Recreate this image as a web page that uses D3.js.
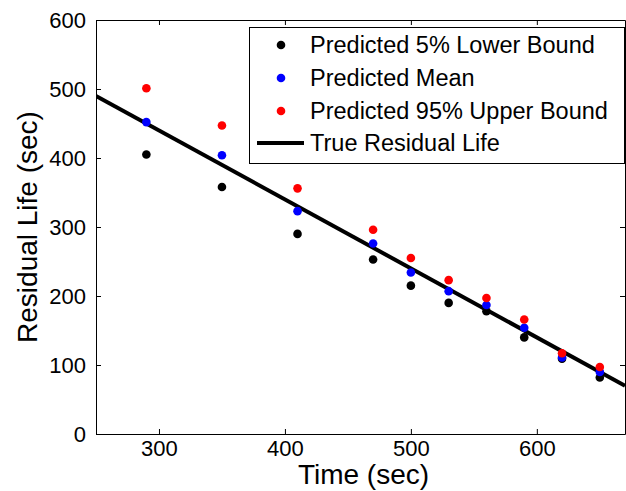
<!DOCTYPE html>
<html>
<head>
<meta charset="utf-8">
<script src="https://cdn.jsdelivr.net/npm/d3@7"></script>
<style>
  body { margin: 0; background: #fff; }
  svg { display: block; font-family: "Liberation Sans", Arial, sans-serif; }
</style>
</head>
<body>
<div id="chart"></div>
<script>
const times = [290, 350, 410, 470, 500, 530, 560, 590, 620, 650];
const lowerBound = [405, 358, 290, 253, 215, 190, 178, 140, 109, 82];
const meanPred = [452, 404, 323, 276, 234, 207, 187, 154, 111, 90];
const upperBound = [501, 447, 356, 296, 255, 223, 197, 166, 117, 97];
const trueTimes = [250, 670];
const trueLife = [490, 70];
const xTicks = [300, 400, 500, 600];
const yTicks = [0, 100, 200, 300, 400, 500, 600];
const legendLabels = ["Predicted 5% Lower Bound", "Predicted Mean", "Predicted 95% Upper Bound", "True Residual Life"];

const width = 626, height = 491;
const padLeft = 96, padRight = 625, padTop = 20, padBottom = 434;

const svg = d3.select("#chart").append("svg")
    .attr("width", width)
    .attr("height", height);

const x = d3.scaleLinear().domain([250, 670]).range([padLeft, padRight]);
const y = d3.scaleLinear().domain([0, 600]).range([padBottom, padTop]);

svg.append("clipPath").attr("id", "plotclip")
  .append("rect")
    .attr("x", padLeft).attr("y", padTop)
    .attr("width", padRight - padLeft).attr("height", padBottom - padTop);

// axes, ticks pointing inward
const axisStyle = g => {
  g.select(".domain").attr("stroke", "#000").attr("stroke-width", 1);
  g.selectAll(".tick line").attr("stroke", "#000");
  g.selectAll("text").attr("fill", "#000").style("font-size", "22px");
};

svg.append("g")
    .attr("transform", `translate(0,${padBottom})`)
    .call(d3.axisBottom(x).tickValues(xTicks).tickSizeInner(-5).tickSizeOuter(0).tickPadding(6))
    .call(axisStyle);

svg.append("g")
    .attr("transform", `translate(0,${padTop})`)
    .call(d3.axisTop(x).tickValues(xTicks).tickSizeInner(-5).tickSizeOuter(0).tickFormat(""))
    .call(axisStyle);

svg.append("g")
    .attr("transform", `translate(${padLeft},0)`)
    .call(d3.axisLeft(y).tickValues(yTicks).tickSizeInner(-5).tickSizeOuter(0).tickPadding(10))
    .call(axisStyle);

svg.append("g")
    .attr("transform", `translate(${padRight},0)`)
    .call(d3.axisRight(y).tickValues(yTicks).tickSizeInner(-5).tickSizeOuter(0).tickFormat(""))
    .call(axisStyle);

const plot = svg.append("g").attr("clip-path", "url(#plotclip)");

const line = d3.line().x(d => x(d[0])).y(d => y(d[1]));
plot.append("path")
    .datum(trueTimes.map((t, i) => [t, trueLife[i]]))
    .attr("d", line)
    .attr("fill", "none")
    .attr("stroke", "#000")
    .attr("stroke-width", 4);

const series = [
  { vals: lowerBound, color: "#000" },
  { vals: meanPred, color: "#0000ff" },
  { vals: upperBound, color: "#ff0000" }
];

series.forEach(s => {
  plot.selectAll(null)
    .data(times.map((t, i) => [t, s.vals[i]]))
    .enter()
    .append("circle")
      .attr("cx", d => x(d[0]))
      .attr("cy", d => y(d[1]))
      .attr("r", 4.3)
      .attr("fill", s.color);
});

// legend
const legend = svg.append("g");
legend.append("rect")
    .attr("x", 249.5).attr("y", 27.5)
    .attr("width", 375).attr("height", 136)
    .attr("fill", "#fff")
    .attr("stroke", "#000");

const rowY = [45, 78, 111, 143];
series.forEach((s, i) => {
  legend.append("circle")
    .attr("cx", 281).attr("cy", rowY[i])
    .attr("r", 4.3).attr("fill", s.color);
});
legend.append("line")
    .attr("x1", 257).attr("x2", 304)
    .attr("y1", rowY[3]).attr("y2", rowY[3])
    .attr("stroke", "#000").attr("stroke-width", 4);

legend.selectAll("text.lab")
  .data(legendLabels)
  .enter()
  .append("text")
    .attr("x", 310)
    .attr("y", (d, i) => rowY[i] + 8)
    .style("font-size", "23.5px")
    .text(d => d);

svg.append("text")
    .attr("x", (padLeft + padRight) / 2 + 3)
    .attr("y", 484)
    .attr("text-anchor", "middle")
    .style("font-size", "28px")
    .text("Time (sec)");

svg.append("text")
    .attr("transform", `translate(37,${(padTop + padBottom) / 2}) rotate(-90)`)
    .attr("text-anchor", "middle")
    .style("font-size", "28px")
    .text("Residual Life (sec)");
</script>
</body>
</html>
